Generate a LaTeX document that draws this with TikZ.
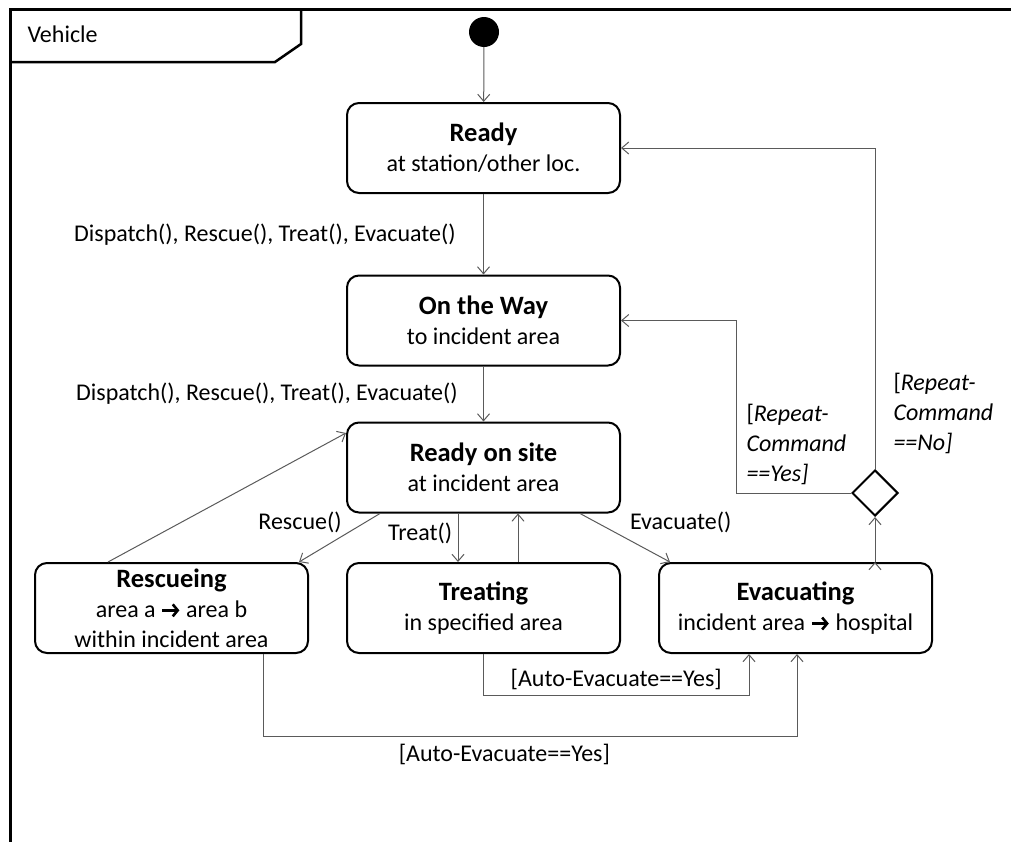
\documentclass[tikz,border=0pt]{standalone}
\usepackage{fontspec}
\setmainfont{Carlito}
\usetikzlibrary{positioning, arrows.meta, shapes.geometric}

\definecolor{wire}{RGB}{90,90,90}

% thick arrow used inside the state texts
\newcommand\toarrow{\tikz[baseline=-0.6ex]\draw[line width=2.6pt,
    -{Straight Barb[length=5pt,width=12pt]}] (0,0) -- (17pt,0);}
\newcommand\statename[1]{{\fontsize{26.5}{30}\selectfont\bfseries #1}}

\tikzset{
    state/.style={draw, line width=2pt, rounded corners=12pt, align=center,
        minimum width=273pt, minimum height=90pt, inner sep=2pt},
    trans/.style={draw=wire, line width=1pt, -{Straight Barb[length=7pt,width=12pt]}},
    guard/.style={align=left, inner sep=2pt}
}

\begin{document}
\begin{tikzpicture}[x=1pt, y=-1pt, node distance=37pt,
        font=\fontsize{24}{30}\selectfont]
    \useasboundingbox (0,0) rectangle (1011,841);

    % frame and its name tab
    \draw[line width=3pt] (10,1000) -- (10,9) -- (1100,9);
    \draw[line width=2.5pt] (10,62) -- (275,62) -- (301,44) -- (301,9);
    \node[anchor=west] (frame) at (24,34) {Vehicle};

    % states
    \node (init) [circle, fill, minimum size=30pt, inner sep=0pt] at (484,32) {};
    \node (ready) [state] at (483.5,148) {\statename{Ready}\\at station/other loc.};
    \node (onway) [state] at (483.5,320.5) {\statename{On the Way}\\to incident area};
    \node (onsite) [state] at (483.5,467.5) {\statename{Ready on site}\\at incident area};
    \node (treat) [state] at (483.5,608) {\statename{Treating}\\in specified area};
    \node (rescue) [state, left=of treat] {\statename{Rescueing}\\area a \toarrow{} area b\\within incident area};
    \node (evac) [state, right=of treat] {\statename{Evacuating}\\incident area \toarrow{} hospital};
    \node (choice) [diamond, draw, line width=2pt, minimum size=46pt, inner sep=0pt] at (875,493) {};

    % transitions
    \path[trans]
        (init) edge (ready)
        (ready) edge node[left=24pt] {Dispatch(), Rescue(), Treat(), Evacuate()} (onway)
        (onway) edge node[left=22pt] {Dispatch(), Rescue(), Treat(), Evacuate()} (onsite)
        ([xshift=-103.5pt]onsite.south) edge node[pos=0.18, left=20pt] {Rescue()} ([xshift=127.5pt]rescue.north)
        ([xshift=-25.5pt]onsite.south) edge node[pos=0.42, left=2pt] {Treat()} ([xshift=-25.5pt]treat.north)
        ([xshift=34.5pt]treat.north) edge ([xshift=34.5pt]onsite.south)
        ([xshift=96.5pt]onsite.south) edge node[pos=0.18, right=30pt] {Evacuate()} ([xshift=-125.5pt]evac.north)
        ([xshift=-63.5pt]rescue.north) edge ([yshift=34.5pt]onsite.west)
        (evac.north -| choice.south) edge (choice.south);

    \draw[trans] (treat.south) -- ++(0,41)
        -| node[pos=0.25, above=1pt] {[Auto-Evacuate==Yes]} ([xshift=-46.5pt]evac.south);
    \draw[trans] ([xshift=91.5pt]rescue.south) -- ++(0,82)
        -| node[pos=0.226, below=4pt] {[Auto-Evacuate==Yes]} ([xshift=1.5pt]evac.south);

    \draw[trans] (choice.west) -- ++(-115,0)
        |- node[pos=0.14, right=8pt, guard] {[\textit{Repeat-}\\\textit{Command}\\\textit{==Yes]}} (onway.east);
    \draw[trans] (choice.north)
        |- node[pos=0.087, right=16pt, guard] {[\textit{Repeat-}\\\textit{Command}\\\textit{==No]}} (ready.east);
\end{tikzpicture}
\end{document}
